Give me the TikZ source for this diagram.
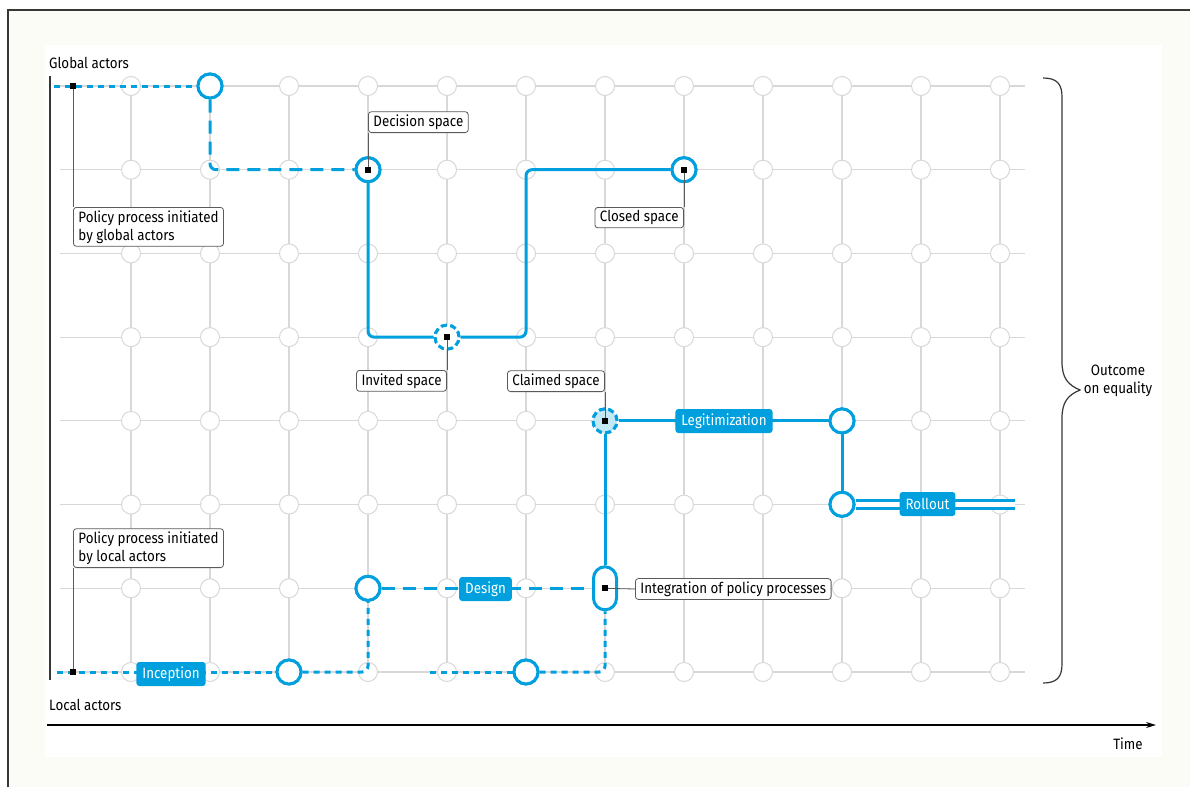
\documentclass[tikz,border=0pt]{standalone}
\usepackage{fontspec}
\setmainfont{Fira Sans}[FakeStretch=0.89]
\usetikzlibrary{arrows.meta}
\definecolor{bl}{RGB}{0,160,222}
\definecolor{lbl}{RGB}{196,232,246}
\definecolor{gridc}{RGB}{216,216,216}
\definecolor{cream}{RGB}{252,252,246}
\definecolor{frame}{RGB}{55,55,55}
\definecolor{leadc}{RGB}{90,90,90}
\begin{document}
\begin{tikzpicture}[x=1pt,y=-1pt,
  font=\fontsize{15}{18}\selectfont,
  gridline/.style={draw=gridc, line width=1.1pt},
  gc/.style={circle, draw=gridc, fill=white, line width=1pt, minimum size=19pt, inner sep=0pt},
  bc/.style={circle, draw=bl, fill=white, line width=3pt, minimum size=24pt, inner sep=0pt},
  dc/.style={bc, dash pattern=on 6pt off 3.4pt},
  sq/.style={rectangle, fill=black, minimum size=6pt, inner sep=0pt},
  lab/.style={rectangle, draw=leadc, fill=white, rounded corners=3pt, line width=0.8pt, inner xsep=5pt, inner ysep=3pt, align=left},
  tagbox/.style={rectangle, fill=bl, text=white, rounded corners=3pt, inner xsep=6pt, inner ysep=0pt, minimum height=24pt},
  bpath/.style={draw=bl, line width=3pt},
  dotp/.style={bpath, dash pattern=on 6pt off 5pt},
  dashp/.style={bpath, dash pattern=on 13pt off 8pt},
  leader/.style={draw=leadc, line width=0.8pt},
  axisline/.style={draw=frame, line width=1.5pt}
]
\useasboundingbox (0,0) rectangle (1190,787);
% backgrounds
\fill[white] (0,0) rectangle (1190,787);
\fill[cream] (8,10) rectangle (1190,787);
\fill[white] (45,45) rectangle (1162,757);
\draw[draw=frame, line width=1.5pt] (8,787) -- (8,10) -- (1190,10);

% grid
\foreach \r in {0,...,7} {
  \draw[gridline] (60,{86+\r*83.714}) -- (1025,{86+\r*83.714});
}
\foreach \c in {0,...,11} {
  \draw[gridline] ({131+\c*79},86) -- ({131+\c*79},672);
}
\foreach \c in {0,...,11} {
  \foreach \r in {0,...,7} {
    \node[gc] (g-\c-\r) at ({131+\c*79},{86+\r*83.714}) {};
  }
}

% axes
\coordinate (ya) at (50,76);
\coordinate (yb) at (50,680);
\draw[axisline] (ya) -- (yb);
\node[anchor=base west, inner sep=0pt] (glob) at (49,68) {Global actors};
\node[anchor=base west, inner sep=0pt] (loc) at (49,710) {Local actors};
\coordinate (ta) at (47,725);
\coordinate (tb) at (1156,725);
\draw[draw=black, line width=1.3pt, -{Stealth[length=10pt,width=6pt]}] (ta) -- (tb);
\node[anchor=base, inner sep=0pt] (time) at (1128,749) {Time};

% brace
\draw[draw=frame, line width=1.2pt] (1043,78) .. controls (1057,78) and (1062,84) .. (1062,97)
  -- (1062,362) .. controls (1062,378) and (1068,385) .. (1080,390)
  .. controls (1068,395) and (1062,402) .. (1062,418)
  -- (1062,664) .. controls (1062,677) and (1057,683) .. (1043,683);
\node[align=center, inner sep=0pt] (outc) at (1118,381) {Outcome\\on equality};

% blue circles (nodes)
\coordinate (gs) at (54,86);
\node[bc] (G1) at (210,86) {};
\node[bc] (G2) at (368,169.7) {};
\node[bc] (CL) at (684,169.7) {};
\node[dc] (INV) at (447,337.1) {};
\coordinate (c2) at (526,169.7);
\node[dc, fill=lbl] (CLM) at (605,420.9) {};
\node[bc] (LG) at (842,420.9) {};
\node[bc] (RO) at (842,504.3) {};
\coordinate (re) at (1015,504.3);
\node[bc] (L2) at (368,588.3) {};
\node[rectangle, draw=bl, fill=white, line width=3pt, rounded corners=11.5pt, minimum width=23pt, minimum height=43pt, inner sep=0pt] (PILL) at (605,588.3) {};
\node[bc] (L1) at (289,672) {};
\node[bc] (L3) at (526,672) {};
\coordinate (ls) at (57,672);
\coordinate (ls2) at (430,672);

% paths
\draw[dotp] (gs) -- (G1);
\draw[dashp, rounded corners=6pt] (G1) |- (G2);
\draw[bpath, rounded corners=6pt] (G2) |- (INV);
\draw[bpath, rounded corners=6pt] (INV) -| (c2) -- (CL);
\draw[dotp] (ls) -- (L1);
\draw[dotp, rounded corners=6pt] (L1) -| (L2);
\draw[dashp] (L2) -- (PILL);
\draw[dotp] (ls2) -- (L3);
\draw[dotp, rounded corners=6pt] (L3) -| (PILL);
\draw[bpath] (PILL) -- (CLM);
\draw[bpath] (CLM) -- (LG);
\draw[bpath] (LG) -- (RO);
\draw[draw=bl, line width=3pt, double=white, double distance=5pt] (RO) -- (re);

% redraw circles on top
\node[bc] at (G1) {};
\node[bc] at (G2) {};
\node[bc] at (CL) {};
\node[dc] at (INV) {};
\node[dc, fill=lbl] at (CLM) {};
\node[bc] at (LG) {};
\node[bc] at (RO) {};
\node[bc] at (L2) {};
\node[bc] at (L1) {};
\node[bc] at (L3) {};

% tags
\node[tagbox] (tinc) at (171,674) {Inception};
\node[tagbox] (tdes) at (485.5,589) {Design};
\node[tagbox] (tleg) at (724,421) {Legitimization};
\node[tagbox] (trol) at (927.5,504) {Rollout};

% squares
\node[sq] (s1) at (73,86) {};
\node[sq] (s2) at (G2) {};
\node[sq] (s3) at (INV) {};
\node[sq] (s4) at (CL) {};
\node[sq] (s5) at (CLM) {};
\node[sq] (s6) at (PILL) {};
\node[sq] (s7) at (73,672) {};

% labels
\node[lab, anchor=south west] (ds) at (368,133) {Decision space};
\node[lab, anchor=north east] (cs) at (684,207) {Closed space};
\node[lab, anchor=north east] (is) at (447,370) {Invited space};
\node[lab, anchor=south east] (cls) at (605,392) {Claimed space};
\node[lab, anchor=north west] (pg) at (73,207) {Policy process initiated\\by global actors};
\node[lab, anchor=south west] (pl) at (73,568) {Policy process initiated\\by local actors};
\node[lab, anchor=west] (int) at (635,589) {Integration of policy processes};

% leaders
\draw[leader] (s1) -- (pg.north west);
\draw[leader] (s7) -- (pl.south west);
\draw[leader] (s2) -- (ds.south west);
\draw[leader] (s4) -- (cs.north east);
\draw[leader] (s3) -- (is.north east);
\draw[leader] (s5) -- (cls.south east);
\draw[leader] (s6) -- (int.west);
\end{tikzpicture}
\end{document}
